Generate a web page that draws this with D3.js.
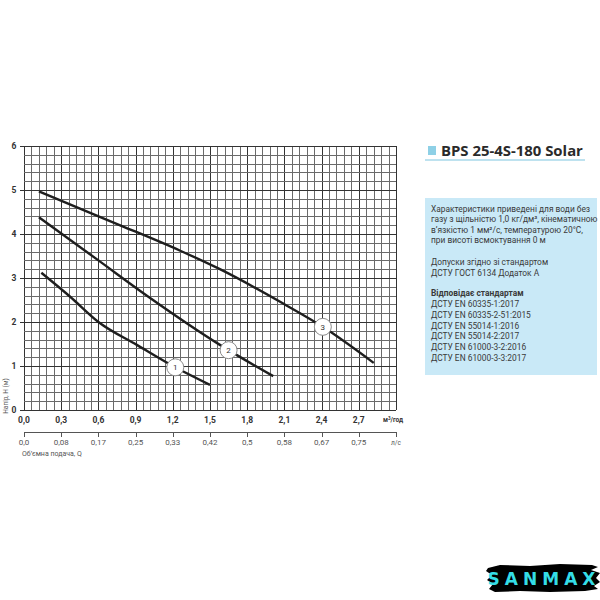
<!DOCTYPE html>
<html><head><meta charset="utf-8">
<script src="https://cdn.jsdelivr.net/npm/d3@7"></script>
<style>body{margin:0;background:#fff}</style>
</head><body><svg id="c" width="600" height="600"></svg>
<script>
// ---- data ----
const xTickValues = [0, 0.3, 0.6, 0.9, 1.2, 1.5, 1.8, 2.1, 2.4, 2.7];
const xTickLabels = ["0,0","0,3","0,6","0,9","1,2","1,5","1,8","2,1","2,4","2,7"];
const lsTickLabels = ["0,0","0,08","0,17","0,25","0,33","0,42","0,5","0,58","0,67","0,75"];
const yTickValues = [0, 1, 2, 3, 4, 5, 6];
const curveNames = ["1", "2", "3"];
const curve1 = [[0.14,3.12],[0.37,2.58],[0.6,2.0],[0.91,1.48],[1.22,0.97],[1.5,0.57]];
const curve2 = [[0.12,4.38],[0.6,3.4],[1.0,2.58],[1.58,1.48],[2.01,0.77]];
const curve3 = [[0.12,4.97],[0.5,4.52],[0.8,4.17],[1.26,3.62],[1.58,3.2],[2.09,2.42],[2.41,1.89],[2.82,1.07]];
const labelPos = [[1.22,0.97],[1.65,1.36],[2.41,1.89]];
const infoLines1 = ["Характеристики приведені для води без","газу з щільністю 1,0 кг/дм³, кінематичною","в’язкістю 1 мм²/с, температурою 20°С,","при висоті всмоктування 0 м"];
const infoLines2 = ["Допуски згідно зі стандартом","ДСТУ ГОСТ 6134 Додаток А"];
const infoHead = "Відповідає стандартам";
const infoLines3 = ["ДСТУ EN 60335-1:2017","ДСТУ EN 60335-2-51:2015","ДСТУ EN 55014-1:2016","ДСТУ EN 55014-2:2017","ДСТУ EN 61000-3-2:2016","ДСТУ EN 61000-3-3:2017"];
const title = "BPS 25-4S-180 Solar";

// ---- layout ----
const svg = d3.select("#c");
const x = d3.scaleLinear().domain([0, 3]).range([24, 396]);
const y = d3.scaleLinear().domain([0, 6]).range([410, 146]);
const FONT = "Roboto, 'Open Sans', sans-serif";

// grid
const g = svg.append("g");
const vx = d3.range(0, 51).map(i => i * 0.06);
const hy = d3.range(0, 31).map(i => i * 0.2);
g.selectAll("line.v").data(vx).join("line")
  .attr("x1", d => Math.round(x(d)) + 0.5).attr("x2", d => Math.round(x(d)) + 0.5)
  .attr("y1", y(6)).attr("y2", y(0))
  .attr("stroke", (d, i) => i % 5 === 0 ? "#333" : "#6a6a6a").attr("stroke-width", 1);
g.selectAll("line.h").data(hy).join("line")
  .attr("y1", d => Math.round(y(d)) + 0.5).attr("y2", d => Math.round(y(d)) + 0.5)
  .attr("x1", x(0)).attr("x2", x(3))
  .attr("stroke", (d, i) => i % 5 === 0 ? "#333" : "#6a6a6a").attr("stroke-width", 1);

// y axis ticks and labels
g.selectAll("line.yt").data(yTickValues).join("line")
  .attr("x1", x(0) - 4).attr("x2", x(0))
  .attr("y1", d => Math.round(y(d)) + 0.5).attr("y2", d => Math.round(y(d)) + 0.5)
  .attr("stroke", "#333");
g.selectAll("text.yl").data(yTickValues).join("text")
  .attr("x", 14).attr("y", d => y(d) + 3)
  .attr("text-anchor", "middle").attr("font-family", FONT).attr("font-weight", "bold")
  .attr("font-size", 8.5).attr("fill", "#333").text(d => d);

// primary x labels
g.selectAll("text.xl").data(xTickValues).join("text")
  .attr("x", d => x(d)).attr("y", 423)
  .attr("text-anchor", "middle").attr("font-family", FONT).attr("font-weight", "bold")
  .attr("font-size", 8.5).attr("fill", "#333").text((d, i) => xTickLabels[i]);
svg.append("text").attr("x", 383).attr("y", 422).attr("font-family", FONT).attr("font-weight", "bold")
  .attr("font-size", 6.5).attr("fill", "#333").html("м<tspan dy='-2.5' font-size='4.5'>3</tspan><tspan dy='2.5'>/год</tspan>");

// secondary axis
svg.append("line").attr("x1", x(0)).attr("x2", x(3)).attr("y1", 432.5).attr("y2", 432.5).attr("stroke", "#555");
g.selectAll("line.st").data(xTickValues.concat([3])).join("line")
  .attr("x1", d => Math.round(x(d)) + 0.5).attr("x2", d => Math.round(x(d)) + 0.5)
  .attr("y1", 432).attr("y2", 437).attr("stroke", "#555");
g.selectAll("text.sl").data(xTickValues).join("text")
  .attr("x", d => x(d)).attr("y", 445)
  .attr("text-anchor", "middle").attr("font-family", FONT)
  .attr("font-size", 8).attr("fill", "#555").text((d, i) => lsTickLabels[i]);
svg.append("text").attr("x", 391).attr("y", 445).attr("font-family", FONT)
  .attr("font-size", 6.5).attr("fill", "#555").text("л/с");
svg.append("text").attr("x", 22).attr("y", 456).attr("font-family", FONT)
  .attr("font-size", 7).attr("fill", "#555").text("Об’ємна подача, Q");
svg.append("text").attr("transform", "translate(8,396) rotate(-90)").attr("text-anchor", "middle")
  .attr("font-family", FONT).attr("font-size", 6.5).attr("fill", "#555").text("Напір, Н (м)");

// curves
const line = d3.line().x(d => x(d[0])).y(d => y(d[1])).curve(d3.curveMonotoneX);
[curve1, curve2, curve3].forEach(c => {
  svg.append("path").attr("d", line(c)).attr("fill", "none")
    .attr("stroke", "#1e1e1e").attr("stroke-width", 2.4);
});
const lab = svg.selectAll("g.lab").data(labelPos).join("g")
  .attr("transform", d => `translate(${x(d[0])},${y(d[1])})`);
lab.append("circle").attr("r", 8.5).attr("fill", "#fff").attr("stroke", "#8a8a8a").attr("stroke-width", 1);
lab.append("text").attr("y", 3).attr("text-anchor", "middle").attr("font-family", FONT)
  .attr("font-size", 8).attr("fill", "#333").text((d, i) => curveNames[i]);

// title
svg.append("rect").attr("x", 428).attr("y", 146).attr("width", 8).attr("height", 9).attr("fill", "#8ed0e6");
const t = svg.append("text").attr("x", 441).attr("y", 156).attr("font-family", "'Open Sans', sans-serif")
  .attr("font-weight", "bold").attr("font-size", 14).attr("fill", "#2a2a2a").text(title);
const tw = t.node().getComputedTextLength();
t.attr("font-size", 14 * 142 / tw);
svg.append("line").attr("x1", 425).attr("x2", 585).attr("y1", 160).attr("y2", 160)
  .attr("stroke", "#a9d9ea").attr("stroke-width", 1.5);

// info box
svg.append("rect").attr("x", 425).attr("y", 198).attr("width", 172).attr("height", 177).attr("fill", "#c9e9f7");
const info = svg.append("g").attr("font-family", FONT).attr("font-size", 8.4).attr("fill", "#3a3a3a");
const addLines = (arr, y0, dy, bold) => arr.forEach((s, i) => info.append("text")
  .attr("x", 431).attr("y", y0 + i * dy).attr("font-weight", bold ? "bold" : "normal").text(s));
addLines(infoLines1, 212, 10.3, false);
addLines(infoLines2, 264.5, 11.5, false);
addLines([infoHead], 296, 0, true);
addLines(infoLines3, 307, 10.8, false);

// SANMAX logo
const logo = svg.append("g");
logo.append("path").attr("fill", "#000").attr("d",
  "M488,568 L500,565 L530,566 L560,564 L592,565 L598,567 L591,570 L600,573 L596,578 L600,582 L594,586 L598,589 L585,591 L550,592 L520,591 L495,592 L489,589 L493,584 L487,580 L492,575 L486,571 Z");
logo.append("text").attr("x", 544).attr("y", 585).attr("text-anchor", "middle")
  .attr("font-family", "'DejaVu Sans', sans-serif").attr("font-weight", "bold").attr("font-size", 17)
  .attr("letter-spacing", 5).attr("fill", "#34dde6").text("SANMAX");
</script></body></html>
